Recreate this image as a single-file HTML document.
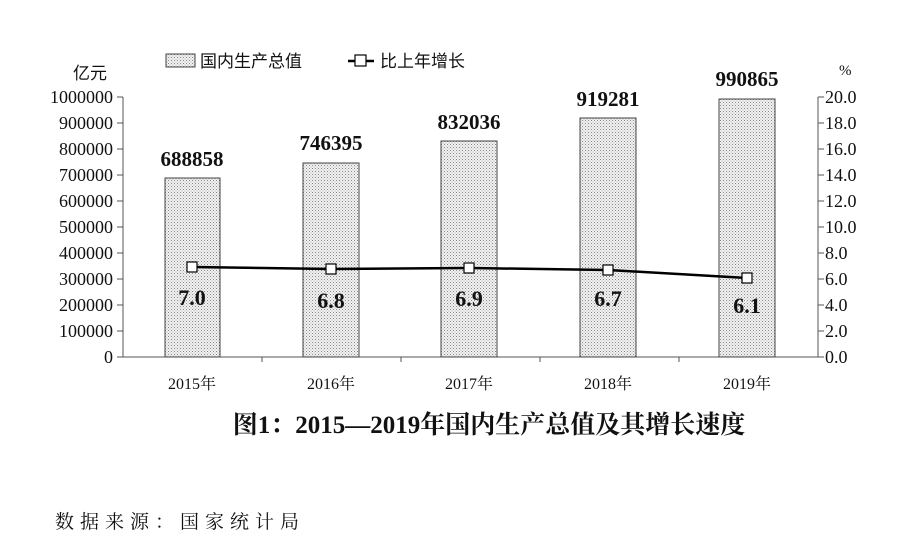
<!DOCTYPE html>
<html><head><meta charset="utf-8"><style>
body{margin:0;background:#fff;}
svg{display:block;}
text{font-family:"Liberation Serif","Noto Serif CJK SC",serif;fill:#111;}
.cjk{font-family:"Liberation Sans","Noto Sans CJK SC",sans-serif;}
</style></head><body>
<svg width="899" height="548" viewBox="0 0 899 548" xmlns="http://www.w3.org/2000/svg">
<defs>
<pattern id="dots" width="3" height="3" patternUnits="userSpaceOnUse">
<rect width="3" height="3" fill="#f2f2f2"/>
<rect x="0" y="0" width="1" height="1" fill="#888"/>
<rect x="1.5" y="1.5" width="1" height="1" fill="#aaa"/>
</pattern>
</defs>
<rect x="166" y="54" width="29" height="13" fill="url(#dots)" stroke="#444" stroke-width="1"/>
<text x="200" y="67" font-size="17" class="cjk">国内生产总值</text>
<line x1="348" y1="61" x2="374" y2="61" stroke="#000" stroke-width="2.5"/>
<rect x="355" y="55" width="11" height="11" fill="#fff" stroke="#000" stroke-width="1.2"/>
<text x="380" y="67" font-size="17" class="cjk">比上年增长</text>
<text x="73" y="79" font-size="17" class="cjk">亿元</text>
<text x="839" y="75" font-size="15">%</text>
<g stroke="#555" stroke-width="1" fill="none">
<line x1="123" y1="97" x2="123" y2="357"/>
<line x1="818" y1="97" x2="818" y2="357"/>
<line x1="123" y1="357" x2="818" y2="357"/>
<line x1="117" y1="97" x2="123" y2="97"/><line x1="117" y1="123" x2="123" y2="123"/><line x1="117" y1="149" x2="123" y2="149"/><line x1="117" y1="175" x2="123" y2="175"/><line x1="117" y1="201" x2="123" y2="201"/><line x1="117" y1="227" x2="123" y2="227"/><line x1="117" y1="253" x2="123" y2="253"/><line x1="117" y1="279" x2="123" y2="279"/><line x1="117" y1="305" x2="123" y2="305"/><line x1="117" y1="331" x2="123" y2="331"/><line x1="117" y1="357" x2="123" y2="357"/>
<line x1="818" y1="97" x2="824" y2="97"/><line x1="818" y1="123" x2="824" y2="123"/><line x1="818" y1="149" x2="824" y2="149"/><line x1="818" y1="175" x2="824" y2="175"/><line x1="818" y1="201" x2="824" y2="201"/><line x1="818" y1="227" x2="824" y2="227"/><line x1="818" y1="253" x2="824" y2="253"/><line x1="818" y1="279" x2="824" y2="279"/><line x1="818" y1="305" x2="824" y2="305"/><line x1="818" y1="331" x2="824" y2="331"/><line x1="818" y1="357" x2="824" y2="357"/>
<line x1="262" y1="357" x2="262" y2="362"/><line x1="401" y1="357" x2="401" y2="362"/><line x1="540" y1="357" x2="540" y2="362"/><line x1="679" y1="357" x2="679" y2="362"/>
</g>
<g font-size="18" text-anchor="end">
<text x="113" y="103">1000000</text><text x="113" y="129">900000</text><text x="113" y="155">800000</text><text x="113" y="181">700000</text><text x="113" y="207">600000</text><text x="113" y="233">500000</text><text x="113" y="259">400000</text><text x="113" y="285">300000</text><text x="113" y="311">200000</text><text x="113" y="337">100000</text><text x="113" y="363">0</text>
</g>
<g font-size="18">
<text x="825" y="103">20.0</text><text x="825" y="129">18.0</text><text x="825" y="155">16.0</text><text x="825" y="181">14.0</text><text x="825" y="207">12.0</text><text x="825" y="233">10.0</text><text x="825" y="259">8.0</text><text x="825" y="285">6.0</text><text x="825" y="311">4.0</text><text x="825" y="337">2.0</text><text x="825" y="363">0.0</text>
</g>
<g fill="url(#dots)" stroke="#444" stroke-width="1">
<rect x="165" y="178" width="55" height="179"/>
<rect x="303" y="163" width="56" height="194"/>
<rect x="441" y="141" width="56" height="216"/>
<rect x="580" y="118" width="56" height="239"/>
<rect x="719" y="99" width="56" height="258"/>
</g>
<g font-size="21" font-weight="bold" text-anchor="middle">
<text x="192" y="166">688858</text>
<text x="331" y="150">746395</text>
<text x="469" y="129">832036</text>
<text x="608" y="106">919281</text>
<text x="747" y="86">990865</text>
</g>
<polyline points="192,267 331,269 469,268 608,270 747,278" fill="none" stroke="#000" stroke-width="2.5"/>
<g fill="#fff" stroke="#000" stroke-width="1.2">
<rect x="187" y="262" width="10" height="10"/><rect x="326" y="264" width="10" height="10"/><rect x="464" y="263" width="10" height="10"/><rect x="603" y="265" width="10" height="10"/><rect x="742" y="273" width="10" height="10"/>
</g>
<g font-size="22" font-weight="bold" text-anchor="middle">
<text x="192" y="305">7.0</text><text x="331" y="308">6.8</text><text x="469" y="306">6.9</text><text x="608" y="306">6.7</text><text x="747" y="313">6.1</text>
</g>
<g font-size="16" text-anchor="middle">
<text x="192" y="389">2015年</text><text x="331" y="389">2016年</text><text x="469" y="389">2017年</text><text x="608" y="389">2018年</text><text x="747" y="389">2019年</text>
</g>
<text x="489" y="433" font-size="25" font-weight="bold" text-anchor="middle">图1：2015—2019年国内生产总值及其增长速度</text>
<text x="55" y="528" font-size="19" letter-spacing="6">数据来源：国家统计局</text>
</svg>
</body></html>
